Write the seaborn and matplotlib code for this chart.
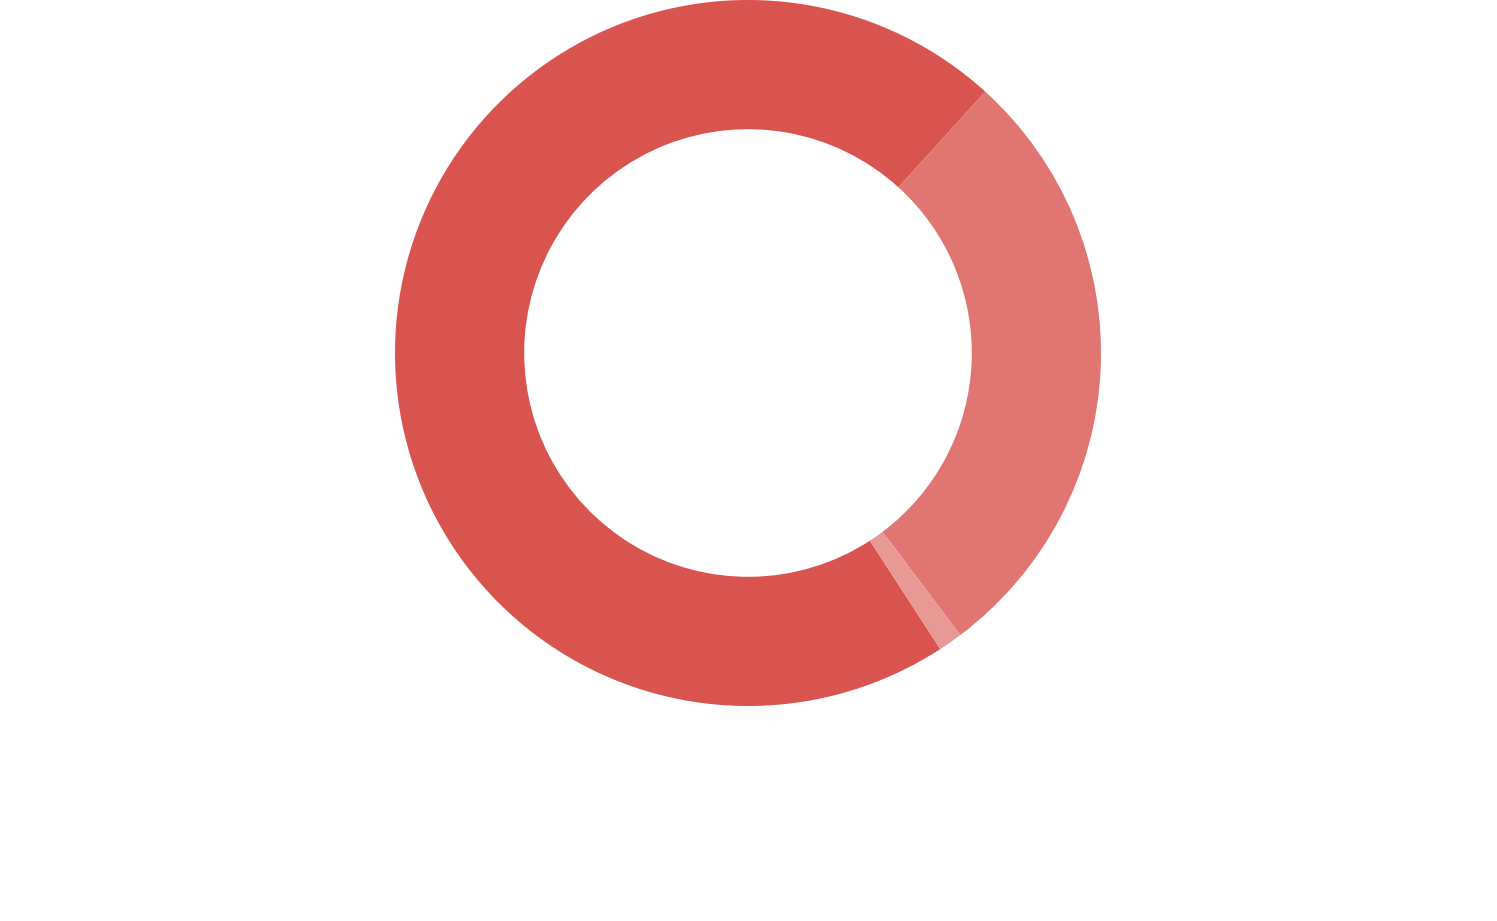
import matplotlib as mlp
mlp.use('Agg')
import matplotlib.pyplot as plt
import seaborn as sns

# datos del donut (porcentajes)
labels = ['A', 'B', 'C']
values = [70.9, 28.0, 1.1]
colors = ['#D9534F', '#E17572', '#E89895']

sns.set_theme(style='white')

fig = plt.figure(figsize=(14.97, 9.21), dpi=100)
ax = fig.add_axes([395 / 1497, (921 - 706) / 921, 706 / 1497, 706 / 921])

ax.pie(values, labels=None, colors=colors, startangle=-57, counterclock=False,
       radius=1.0, wedgeprops=dict(width=0.366, linewidth=0))
ax.set_xlim(-1, 1)
ax.set_ylim(-1, 1)
ax.set_aspect('equal')
ax.axis('off')

fig.savefig('out.png', dpi=100, facecolor='white')
